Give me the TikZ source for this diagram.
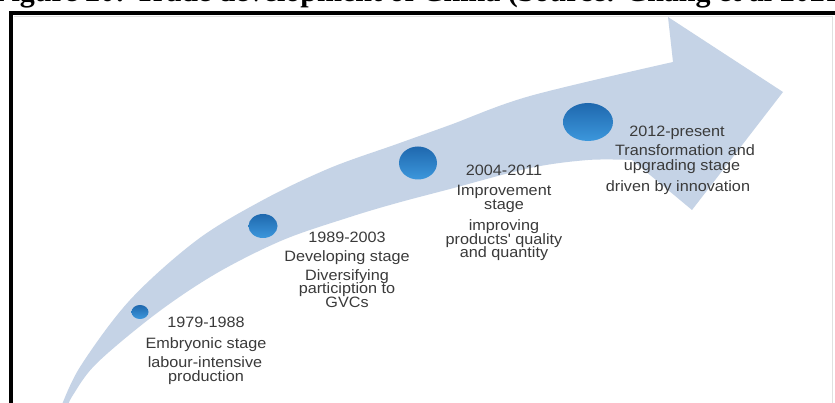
\documentclass[tikz,border=0pt]{standalone}
\usepackage{fontspec}
\newfontfamily\arialf{Liberation Sans}[FakeStretch=1.08]
\newfontfamily\timesf{Liberation Serif}
\usetikzlibrary{shapes.geometric}
\definecolor{bandc}{HTML}{C5D3E6}
\definecolor{txtc}{HTML}{3A3A3A}
\definecolor{dotdark}{HTML}{1F68AE}
\definecolor{dotlight}{HTML}{3C97DC}
\tikzset{
  lbl/.style={anchor=base, inner sep=0pt, text=txtc, font=\arialf\fontsize{15}{15}\selectfont},
  dot/.style={ellipse, inner sep=0pt, top color=dotdark, bottom color=dotlight, draw=none},
  frameline/.style={line width=4.5pt, black},
  innerframe/.style={line width=1pt, black!12},
}
\begin{document}
\begin{tikzpicture}[x=1pt,y=-1pt]
\useasboundingbox (0,0) rectangle (835,403);
\clip (0,0) rectangle (835,403);
\fill[white] (0,0) rectangle (835,403);

% title (cut off at top)
\node[anchor=base west, inner sep=0pt, font=\timesf\bfseries\fontsize{30}{32}\selectfont] (title) at (-7,2) {Figure 20: Trade development of China (Source: Chang et al 2021)};

% frame
\coordinate (fbl) at (11,403);
\coordinate (ftl) at (11,13);
\coordinate (ftr) at (835,13);
\draw[frameline] (fbl) -- (ftl) -- (ftr);
\coordinate (itl) at (14,16.5);
\coordinate (itr) at (832.5,16.5);
\coordinate (ibr) at (832.5,403);
\draw[innerframe] (itl) -- (itr) -- (ibr);

% curved arrow
\fill[bandc] plot[smooth, tension=0.55] coordinates {(60,410) (80,367) (130,300) (197,240) (263,200) (330,168) (397,144) (450,125) (530,96) (673,62)}
  -- (668,17) -- (783,92) -- (692,210)
  -- plot[smooth, tension=0.55] coordinates {(632,160) (588,160) (530,168) (450,189) (397,203) (350,217) (283,240) (217,273) (157,313) (97,363) (73,395) (66,410)} -- cycle;

% dots
\node[dot, minimum width=17pt, minimum height=14pt] (d1) at (140,312) {};
\node[dot, minimum width=29pt, minimum height=24pt] (d2) at (263,226) {};
\node[dot, minimum width=38pt, minimum height=33pt] (d3) at (418,163) {};
\node[dot, minimum width=50pt, minimum height=38pt] (d4) at (588,122) {};

% stage 1
\node[lbl] (a1) at (206,327) {1979-1988};
\node[lbl] (a2) at (206,348) {Embryonic stage};
\node[lbl] (a3) at (205,367) {labour-intensive};
\node[lbl] (a4) at (206,381) {production};

% stage 2
\node[lbl] (b1) at (347,243) {1989-2003};
\node[lbl] (b2) at (347,262) {Developing stage};
\node[lbl] (b3) at (347,280) {Diversifying};
\node[lbl] (b4) at (347,294) {particiption to};
\node[lbl] (b5) at (347,308) {GVCs};

% stage 3
\node[lbl] (c1) at (504,176) {2004-2011};
\node[lbl] (c2) at (504,196) {Improvement};
\node[lbl] (c3) at (504,210) {stage};
\node[lbl] (c4) at (504,231) {improving};
\node[lbl] (c5) at (504,245) {products' quality};
\node[lbl] (c6) at (504,258) {and quantity};

% stage 4
\node[lbl] (e1) at (677,137) {2012-present};
\node[lbl] (e2) at (685,156) {Transformation and};
\node[lbl] (e3) at (682,171) {upgrading stage};
\node[lbl] (e4) at (678,192) {driven by innovation};
\end{tikzpicture}
\end{document}
